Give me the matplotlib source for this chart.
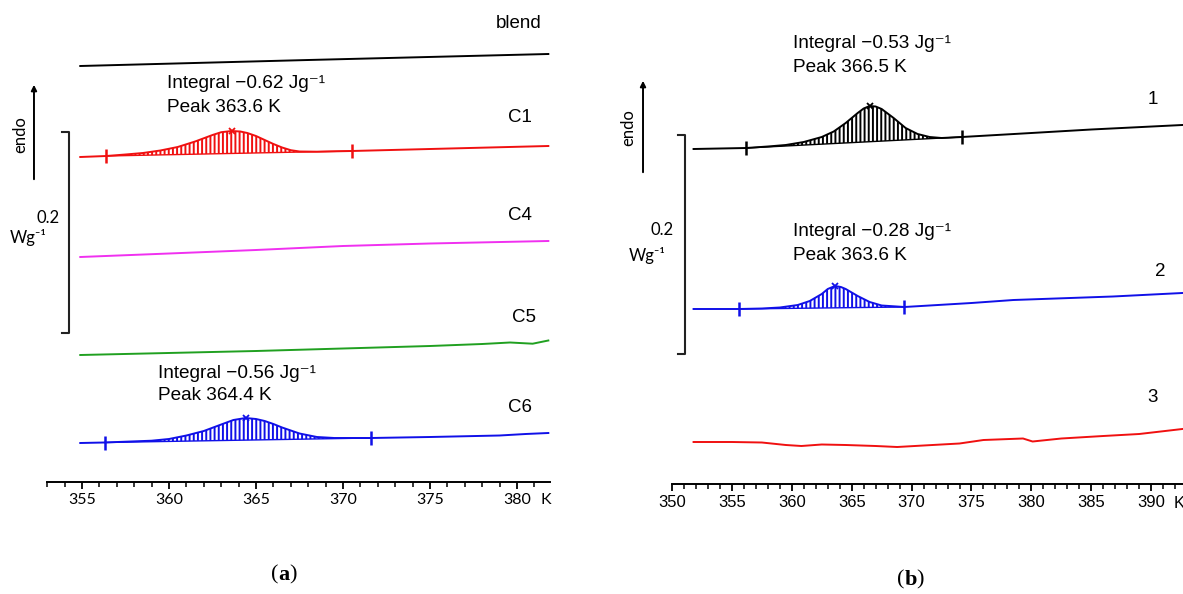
import matplotlib

matplotlib.use("Agg")
import matplotlib.pyplot as plt
import numpy as np

# ---- panel (a): temperature (K) vs heat flow (mW/g, offset per trace, endo up)
blend_T = [354.9, 368.0, 381.8]
blend_q = [528.0, 534.0, 540.0]

c1_T = [354.9, 356.4, 357.5, 358.5, 359.5, 360.5, 361.5, 362.5, 363.0, 363.6, 364.1,
        364.5, 365.0, 365.5, 366.0, 366.5, 367.0, 367.5, 368.5, 370.5, 375.0, 381.8]
c1_q = [437.0, 438.0, 439.5, 441.0, 443.5, 447.0, 452.5, 459.0, 461.8, 463.0, 462.5,
        461.0, 458.0, 454.0, 450.0, 446.5, 443.8, 442.5, 442.3, 443.0, 445.0, 448.0]
c1_lims = (356.4, 370.5)
c1_peak = 363.6

c4_T = [354.9, 360.0, 365.0, 370.0, 375.0, 381.8]
c4_q = [337.0, 340.5, 344.0, 348.0, 350.5, 353.0]

c5_T = [354.9, 365.0, 375.0, 378.0, 379.6, 380.9, 381.8]
c5_q = [239.0, 243.0, 248.0, 250.0, 251.5, 250.3, 253.5]

c6_T = [354.9, 356.3, 357.5, 359.0, 360.0, 361.0, 362.0, 363.0, 363.7, 364.4, 365.0,
        365.5, 366.0, 366.5, 367.5, 368.5, 369.5, 371.6, 375.0, 379.0, 380.5, 381.8]
c6_q = [151.0, 151.5, 152.3, 153.3, 155.0, 158.5, 163.0, 169.5, 174.0, 176.0, 175.0,
        173.0, 170.0, 166.5, 160.5, 157.0, 156.0, 156.0, 157.0, 158.5, 160.0, 161.0]
c6_lims = (356.3, 371.6)
c6_peak = 364.4

# ---- panel (b)
s1_T = [351.8, 354.0, 356.2, 358.0, 359.5, 361.0, 362.5, 363.5, 364.5, 365.5, 366.0,
        366.5, 367.0, 367.5, 368.5, 369.5, 370.5, 371.5, 372.5, 374.2, 380.0, 385.0, 392.6]
s1_q = [445.0, 445.5, 446.0, 447.5, 449.0, 452.0, 457.0, 462.5, 471.0, 481.0, 485.5,
        488.0, 487.5, 485.0, 476.0, 466.0, 460.0, 457.0, 456.0, 457.0, 461.0, 464.5, 469.0]
s1_lims = (356.2, 374.2)
s1_peak = 366.5

s2_T = [351.8, 355.6, 357.5, 359.0, 360.5, 361.5, 362.5, 363.0, 363.6, 364.1, 364.5,
        365.5, 366.5, 367.5, 369.4, 375.0, 378.5, 386.8, 392.6]
s2_q = [285.0, 285.0, 285.5, 286.5, 289.0, 293.0, 300.0, 305.0, 308.0, 307.0, 305.0,
        298.0, 292.0, 288.5, 287.0, 291.0, 294.0, 297.5, 301.0]
s2_lims = (355.6, 369.4)
s2_peak = 363.6

s3_T = [351.8, 355.0, 357.5, 359.5, 360.8, 362.5, 364.5, 367.0, 368.8, 371.0, 374.0,
        376.0, 379.3, 380.1, 382.5, 386.0, 389.0, 392.6]
s3_q = [152.0, 152.0, 151.5, 149.0, 148.0, 149.5, 149.0, 148.0, 147.0, 148.5, 150.5,
        154.0, 155.5, 152.5, 155.5, 158.0, 160.0, 165.0]

SANS = ["Liberation Sans", "DejaVu Sans"]
CALI = ["Lato", "DejaVu Sans"]
SERIF = ["Liberation Serif", "DejaVu Serif"]
RED, MAG, GRN, BLU = "#f01010", "#f030f0", "#20a020", "#1010e8"

plt.rcParams["hatch.linewidth"] = 1.4


def peak_trace(ax, T, q, lims, peak, color):
    T = np.asarray(T)
    q = np.asarray(q)
    ax.plot(T, q, color=color, lw=1.4, zorder=3)
    qa, qb = np.interp(lims, T, q)
    inner = T[(T > lims[0]) & (T < lims[1])]
    x = np.r_[lims[0], inner, lims[1]]
    y = np.interp(x, T, q)
    base = np.interp(x, lims, [qa, qb])
    ax.fill_between(x, base, y, facecolor="none", edgecolor=color, lw=0,
                    hatch="||||", zorder=2)
    ax.plot(lims, [qa, qb], color=color, lw=1.0, zorder=2)
    ax.plot(lims, [qa, qb], ls="none", marker="|", ms=10, mew=1.8, color=color, zorder=4)
    ax.plot([peak], [np.interp(peak, T, q)], ls="none", marker="x", ms=5, mew=1.3,
            color=color, zorder=4)


def setup_axis(ax, xlim, axis_y, lo, hi, majors, minors):
    ax.set_xlim(*xlim)
    ax.set_ylim(0, 594)
    for s in ("top", "right", "left"):
        ax.spines[s].set_visible(False)
    ax.spines["bottom"].set_position(("data", axis_y))
    ax.spines["bottom"].set_bounds(lo, hi)
    ax.spines["bottom"].set_linewidth(1.4)
    ax.set_yticks([])
    ax.set_xticks(majors)
    ax.set_xticks(minors, minor=True)
    ax.tick_params(axis="x", which="major", length=5, width=1.3, direction="out", pad=3)
    ax.tick_params(axis="x", which="minor", length=3.5, width=1.1, direction="out")
    ax.patch.set_visible(False)


def scale_marks(ax, arrow_x, arrow_y, bar_x, bar_tick, bar_y, endo_xy, val_xy, unit_xy):
    ax.annotate("", xy=(arrow_x, arrow_y[1]), xytext=(arrow_x, arrow_y[0]),
                arrowprops=dict(arrowstyle="-|>", lw=1.4, color="black", mutation_scale=8),
                annotation_clip=False)
    ax.plot([bar_tick, bar_x, bar_x, bar_tick], [bar_y[1], bar_y[1], bar_y[0], bar_y[0]],
            color="#222222", lw=1.5)
    ax.text(*endo_xy, "endo", rotation=90, ha="center", va="center", fontsize=12, family=CALI)
    ax.text(*val_xy, "0.2", ha="center", va="center", fontsize=12, family=CALI)
    ax.text(*unit_xy, "Wg⁻¹", ha="center", va="center", fontsize=12, family=CALI)


def panel_tag(ax, x, y, letter, gap):
    ax.text(x, y, "(", ha="right", va="center", fontsize=16, family=SERIF)
    ax.text(x, y, letter, ha="left", va="center", fontsize=16, family=SERIF, weight="bold")
    ax.text(x + gap, y, ")", ha="left", va="center", fontsize=16, family=SERIF)


fig = plt.figure(figsize=(11.83, 5.94), dpi=100)

# ---------------- (a)
ax = fig.add_axes([0, 0, 590 / 1183, 1])
setup_axis(ax, (350.287, 384.195), 112, 353, 381.9,
           np.arange(355, 381, 5), np.arange(353, 382, 1))
ax.set_xticklabels([str(v) for v in np.arange(355, 381, 5)], family=CALI, fontsize=11.5)
ax.text(381.67, 94, "K", ha="center", va="center", fontsize=11.5, family=CALI)

ax.plot(blend_T, blend_q, color="black", lw=1.4)
peak_trace(ax, c1_T, c1_q, c1_lims, c1_peak, RED)
ax.plot(c4_T, c4_q, color=MAG, lw=1.4)
ax.plot(c5_T, c5_q, color=GRN, lw=1.4)
peak_trace(ax, c6_T, c6_q, c6_lims, c6_peak, BLU)

for lab, x, y in [("blend", 380.11, 570), ("C1", 380.17, 476), ("C4", 380.17, 379),
                  ("C5", 380.4, 276), ("C6", 380.17, 187)]:
    ax.text(x, y, lab, ha="center", va="center", fontsize=13.5, family=SANS)
ax.text(359.89, 510, "Integral −0.62 Jg⁻¹", ha="left", va="center", fontsize=13.7, family=SANS)
ax.text(359.89, 487, f"Peak {c1_peak} K", ha="left", va="center", fontsize=13.7, family=SANS)
ax.text(359.37, 221, "Integral −0.56 Jg⁻¹", ha="left", va="center", fontsize=13.7, family=SANS)
ax.text(359.37, 198, f"Peak {c6_peak} K", ha="left", va="center", fontsize=13.7, family=SANS)

scale_marks(ax, 352.24, (412, 512), 354.25, 353.85, (261, 462),
            (351.44, 459), (353.05, 376), (351.9, 357))
panel_tag(ax, 366.3, 19, "a", 0.6)

# ---------------- (b)
ax = fig.add_axes([590 / 1183, 0, 593 / 1183, 1])
setup_axis(ax, (343.155, 392.655), 110, 350, 392.65,
           np.arange(350, 391, 5), np.arange(350, 393, 1))
ax.set_xticklabels([str(v) for v in np.arange(350, 391, 5)], family=SANS, fontsize=12)
ax.text(392.3, 90, "K", ha="center", va="center", fontsize=12, family=SANS)

peak_trace(ax, s1_T, s1_q, s1_lims, s1_peak, "black")
peak_trace(ax, s2_T, s2_q, s2_lims, s2_peak, BLU)
ax.plot(s3_T, s3_q, color=RED, lw=1.4)

for lab, x, y in [("1", 390.15, 494), ("2", 390.73, 322), ("3", 390.15, 197)]:
    ax.text(x, y, lab, ha="center", va="center", fontsize=13.5, family=SANS)
ax.text(360.1, 551, "Integral −0.53 Jg⁻¹", ha="left", va="center", fontsize=13.7, family=SANS)
ax.text(360.1, 527, f"Peak {s1_peak} K", ha="left", va="center", fontsize=13.7, family=SANS)
ax.text(360.1, 362, "Integral −0.28 Jg⁻¹", ha="left", va="center", fontsize=13.7, family=SANS)
ax.text(360.1, 339, f"Peak {s2_peak} K", ha="left", va="center", fontsize=13.7, family=SANS)

scale_marks(ax, 347.58, (419, 516), 351.09, 350.5, (240, 459),
            (346.33, 466), (349.17, 364), (347.9, 339))
panel_tag(ax, 369.4, 14, "b", 0.95)

fig.savefig("out.png", dpi=100)
